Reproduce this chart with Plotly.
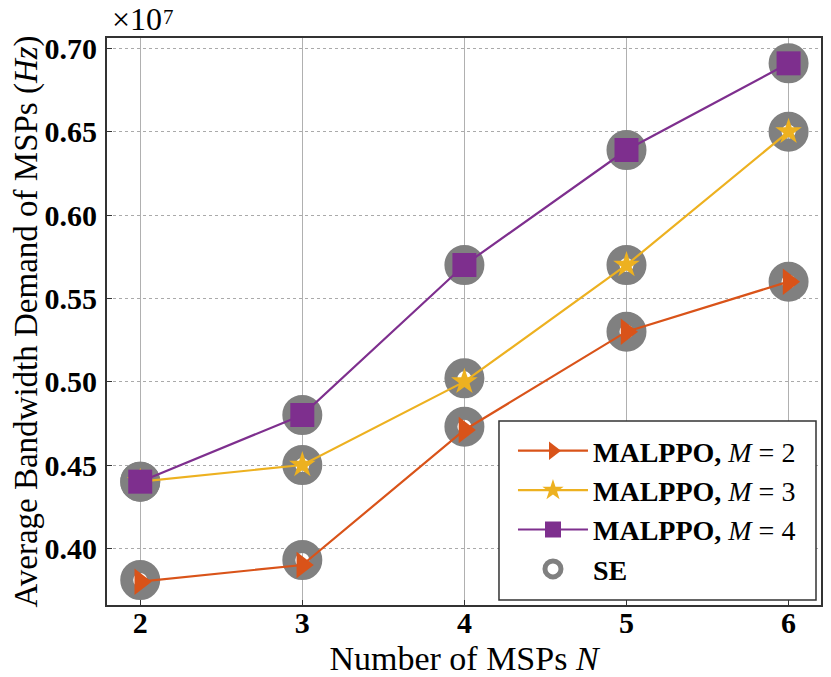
import plotly.graph_objects as go

n_msps = [2, 3, 4, 5, 6]
malppo_m2 = [0.38, 0.39, 0.471, 0.53, 0.56]
malppo_m3 = [0.44, 0.45, 0.50, 0.57, 0.65]
malppo_m4 = [0.44, 0.48, 0.57, 0.639, 0.691]
se_m2 = [0.381, 0.393, 0.473, 0.53, 0.56]
se_m3 = [0.44, 0.45, 0.502, 0.57, 0.65]
se_m4 = [0.44, 0.48, 0.57, 0.639, 0.691]
y_ticks = [0.40, 0.45, 0.50, 0.55, 0.60, 0.65, 0.70]

FONT = "Liberation Serif"
C_M2 = "#D95319"
C_M3 = "#EDB120"
C_M4 = "#7E2F8E"
C_SE = "#808080"

fig = go.Figure()

fig.add_trace(go.Scatter(
    x=n_msps * 3, y=se_m2 + se_m3 + se_m4, mode="markers", name="<b>SE</b>",
    marker=dict(symbol="circle-open", size=27, color=C_SE, line=dict(width=13, color=C_SE)),
    legendrank=4,
))
fig.add_trace(go.Scatter(
    x=n_msps, y=malppo_m2, mode="lines+markers", name="<b>MALPPO,</b> <i>M</i> = 2",
    line=dict(color=C_M2, width=2.2),
    marker=dict(symbol="triangle-right", size=23, color=C_M2),
    legendrank=1,
))
fig.add_trace(go.Scatter(
    x=n_msps, y=malppo_m3, mode="lines+markers", name="<b>MALPPO,</b> <i>M</i> = 3",
    line=dict(color=C_M3, width=2.2),
    marker=dict(symbol="star", size=20, color=C_M3),
    legendrank=2,
))
fig.add_trace(go.Scatter(
    x=n_msps, y=malppo_m4, mode="lines+markers", name="<b>MALPPO,</b> <i>M</i> = 4",
    line=dict(color=C_M4, width=2.2),
    marker=dict(symbol="square", size=24, color=C_M4),
    legendrank=3,
))

# page has an 8px body margin, so the figure is sized to fit the 831x677 window
fig.update_layout(
    width=823, height=669,
    margin=dict(l=99, r=10, t=30, b=72),
    paper_bgcolor="white", plot_bgcolor="white",
    font=dict(family=FONT, color="black", size=26),
    showlegend=True,
    legend=dict(
        x=0.5686, y=0.3157, xanchor="left", yanchor="top",
        bgcolor="rgba(0,0,0,0)", borderwidth=0,
        font=dict(family=FONT, size=28, color="black"),
        itemwidth=70, tracegroupgap=0,
    ),
    shapes=[dict(
        type="rect", xref="paper", yref="paper",
        x0=0.549, x1=0.993, y0=0.0088, y1=0.3245,
        line=dict(color="#333333", width=1.5), fillcolor="white", layer="above",
    )],
    xaxis=dict(
        range=[1.795, 6.2], tickvals=n_msps, ticktext=[str(v) for v in n_msps],
        tickfont=dict(family=FONT, size=30, weight="bold"),
        showgrid=True, gridcolor="#b0b0b0", gridwidth=1.2,
        showline=True, linecolor="#333333", linewidth=2, mirror=True,
        ticks="inside", ticklen=5, tickcolor="#333333", ticklabelstandoff=-10,
        title=dict(text="Number of MSPs <i>N</i>", font=dict(family=FONT, size=34), standoff=12),
        zeroline=False, automargin=False,
    ),
    yaxis=dict(
        range=[0.366, 0.7062], tickvals=y_ticks, ticktext=["%.2f" % v for v in y_ticks],
        tickfont=dict(family=FONT, size=30, weight="bold"),
        showgrid=True, gridcolor="#aaaaaa", gridwidth=1, griddash="dot",
        showline=True, linecolor="#333333", linewidth=2, mirror=True,
        ticks="inside", ticklen=5, tickcolor="#333333", ticklabelstandoff=2,
        title=dict(text="Average Bandwidth Demand of MSPs (<i>Hz</i>)", font=dict(family=FONT, size=33), standoff=2),
        zeroline=False, automargin=False,
    ),
    annotations=[
        dict(
            text="×10", xref="paper", yref="paper", x=0.0, y=1.0,
            xanchor="left", yanchor="bottom", showarrow=False,
            font=dict(family=FONT, size=32), xshift=3, yshift=-1,
        ),
        dict(
            text="7", xref="paper", yref="paper", x=0.0812, y=1.0529,
            xanchor="left", yanchor="top", showarrow=False,
            font=dict(family=FONT, size=21), yshift=5, xshift=-4,
        ),
    ],
)

fig.write_html("out.html")
